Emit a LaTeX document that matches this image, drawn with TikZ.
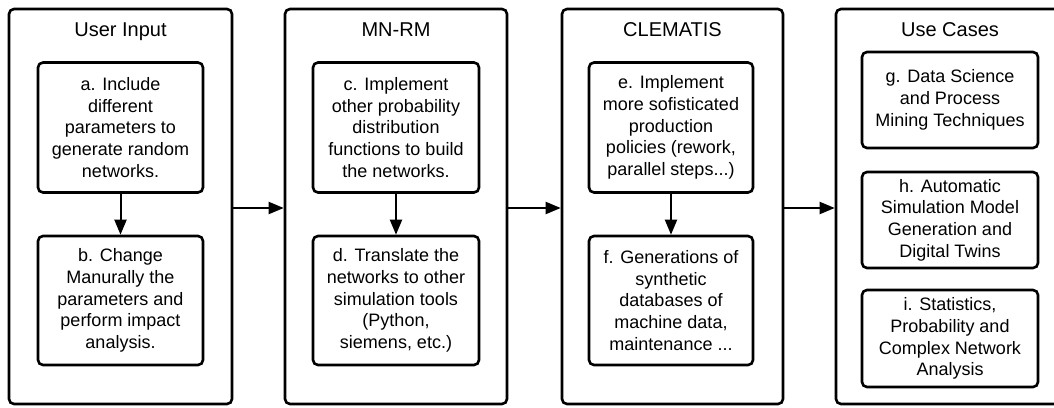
\documentclass[tikz,border=0pt]{standalone}
\usepackage{fontspec}
\setmainfont{Liberation Sans}
\usetikzlibrary{arrows.meta}
\begin{document}
\begin{tikzpicture}[x=1pt,y=-1pt,
  stage/.style={draw, line width=2.6pt, rounded corners=5pt, rectangle, inner sep=0pt},
  task/.style={draw, line width=2.6pt, rounded corners=5pt, rectangle, inner sep=0pt,
    align=center, font=\fontsize{18}{21.7}\selectfont},
  ttl/.style={font=\fontsize{20}{24}\selectfont, anchor=base},
  arr/.style={line width=2pt, -{Triangle[length=15pt,width=12pt]}}]
\useasboundingbox (0,0) rectangle (1054,407);
% stage frames
\node[stage, minimum width=223pt, minimum height=395pt] (ui) at (120.5,206.5) {};
\node[stage, minimum width=222pt, minimum height=395pt] (mn) at (396,206.5) {};
\node[stage, minimum width=221pt, minimum height=395pt] (cl) at (672.5,206.5) {};
\node[stage, minimum width=227pt, minimum height=395pt] (uc) at (949.5,206.5) {};
% stage titles
\node[ttl] (tui) at (120.5,36) {User Input};
\node[ttl] (tmn) at (396,36) {MN-RM};
\node[ttl] (tcl) at (672.5,36) {CLEMATIS};
\node[ttl] (tuc) at (950,36) {Use Cases};
% tasks
\node[task, minimum width=165pt, minimum height=130pt] (a) at (120.5,127.5)
  {a. Include\\different\\parameters to\\generate random\\networks.};
\node[task, minimum width=165pt, minimum height=129pt] (b) at (120.5,300.5)
  {b. Change\\Manurally the\\parameters and\\perform impact\\analysis.};
\node[task, minimum width=166pt, minimum height=130pt] (c) at (396,127.5)
  {c. Implement\\other probability\\distribution\\functions to build\\the networks.};
\node[task, minimum width=166pt, minimum height=129pt] (d) at (396,300.5)
  {d. Translate the\\networks to other\\simulation tools\\(Python,\\siemens, etc.)};
\node[task, minimum width=164pt, minimum height=130pt] (e) at (671,127.5)
  {e. Implement\\more sofisticated\\production\\policies (rework,\\parallel steps...)};
\node[task, minimum width=164pt, minimum height=129pt] (f) at (671,300.5)
  {f. Generations of\\synthetic\\databases of\\machine data,\\maintenance ...};
\node[task, minimum width=176pt, minimum height=96pt] (g) at (950,100)
  {g. Data Science\\and Process\\Mining Techniques};
\node[task, minimum width=176pt, minimum height=96pt] (h) at (950,220)
  {h. Automatic\\Simulation Model\\Generation and\\Digital Twins};
\node[task, minimum width=176pt, minimum height=97pt] (i) at (950,338.5)
  {i. Statistics,\\Probability and\\Complex Network\\Analysis};
% flow inside stages
\draw[arr] (a) -- (b);
\draw[arr] (c) -- (d);
\draw[arr] (e) -- (f);
% flow between stages
\coordinate (lane) at (0,208);
\draw[arr] (ui.east |- lane) -- (mn.west |- lane);
\draw[arr] (mn.east |- lane) -- (cl.west |- lane);
\draw[arr] (cl.east |- lane) -- (uc.west |- lane);
\end{tikzpicture}
\end{document}
